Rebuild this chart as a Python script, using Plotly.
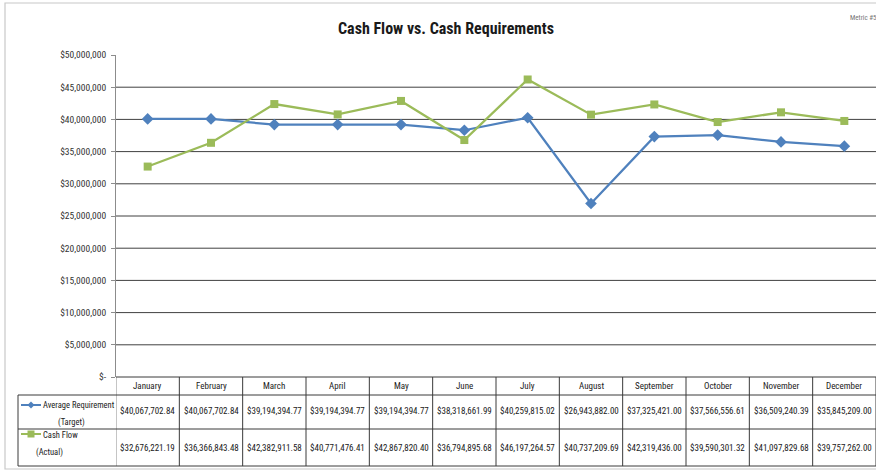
import plotly.graph_objects as go

months = ["January", "February", "March", "April", "May", "June", "July",
          "August", "September", "October", "November", "December"]
avg_requirement = [40067702.84, 40067702.84, 39194394.77, 39194394.77, 39194394.77,
                   38318661.99, 40259815.02, 26943882.00, 37325421.00, 37566556.61,
                   36509240.39, 35845209.00]
cash_flow = [32676221.19, 36366843.48, 42382911.58, 40771476.41, 42867820.40,
             36794895.68, 46197264.57, 40737209.69, 42319436.00, 39590301.32,
             41097829.68, 39757262.00]
y_ticks = [0, 5e6, 10e6, 15e6, 20e6, 25e6, 30e6, 35e6, 40e6, 45e6, 50e6]
y_tick_text = ["$-", "$5,000,000", "$10,000,000", "$15,000,000", "$20,000,000",
               "$25,000,000", "$30,000,000", "$35,000,000", "$40,000,000",
               "$45,000,000", "$50,000,000"]
series_line1 = ["Average Requirement", "Cash Flow"]
series_line2 = ["(Target)", "(Actual)"]

W, H = 876, 470
L, R, T, B = 116, 0, 55, 93
PW = W - L - R
PH = H - T - B
FONT = "Roboto Condensed, Carlito, DejaVu Sans Condensed, sans-serif"
BLUE = "#4F81BD"
GREEN = "#9BBB59"
GRID = "#404040"
BORDER = "#3a3a3a"


def px(x):
    return (x - L) / PW


def py(y):
    return (H - B - y) / PH


def money(v):
    return "${:,.2f}".format(v)


fig = go.Figure()
fig.add_trace(go.Scatter(x=months, y=avg_requirement, mode="lines+markers",
                         line=dict(color=BLUE, width=2.25),
                         marker=dict(symbol="diamond", size=9, color=BLUE),
                         name="Average Requirement (Target)"))
fig.add_trace(go.Scatter(x=months, y=cash_flow, mode="lines+markers",
                         line=dict(color=GREEN, width=2.25),
                         marker=dict(symbol="square", size=8, color=GREEN),
                         name="Cash Flow (Actual)"))

shapes = []
for v in y_ticks[1:-1]:
    shapes.append(dict(type="line", xref="paper", yref="y", x0=0, x1=1, y0=v, y1=v,
                       line=dict(color=GRID, width=1), layer="below"))

# outer frame
shapes.append(dict(type="rect", xref="paper", yref="paper", x0=px(5), x1=px(900),
                   y0=py(469), y1=py(3), line=dict(color="#c8c8c8", width=1.2)))

# table
row_tops = [377, 395, 429, 466]
n = len(months)
for i in range(n + 1):
    xv = i - 0.5
    shapes.append(dict(type="line", xref="x", yref="paper", x0=xv, x1=xv,
                       y0=py(row_tops[0]), y1=py(row_tops[-1]),
                       line=dict(color=BORDER if i > 0 else "#8c8c8c", width=1)))
shapes.append(dict(type="line", xref="paper", yref="paper", x0=0, x1=1,
                   y0=py(377), y1=py(377), line=dict(color=BORDER, width=1)))
for yy in row_tops[1:]:
    shapes.append(dict(type="line", xref="paper", yref="paper", x0=px(18), x1=1,
                       y0=py(yy), y1=py(yy), line=dict(color=BORDER, width=1)))
shapes.append(dict(type="line", xref="paper", yref="paper", x0=px(18), x1=px(18),
                   y0=py(395), y1=py(466), line=dict(color=BORDER, width=1)))

# legend keys in table
key_y = [405, 434]
key_col = [BLUE, GREEN]
for k in range(2):
    yk = py(key_y[k])
    shapes.append(dict(type="line", xref="paper", yref="paper", x0=px(21), x1=px(41),
                       y0=yk, y1=yk, line=dict(color=key_col[k], width=2)))
    cx = 31
    if k == 0:
        path = "M {} {} L {} {} L {} {} L {} {} Z".format(
            px(cx - 3.5), yk, px(cx), py(key_y[k] - 3.5), px(cx + 3.5), yk,
            px(cx), py(key_y[k] + 3.5))
        shapes.append(dict(type="path", xref="paper", yref="paper", path=path,
                           fillcolor=key_col[k], line=dict(color=key_col[k], width=0)))
    else:
        shapes.append(dict(type="rect", xref="paper", yref="paper",
                           x0=px(cx - 3.5), x1=px(cx + 3.5),
                           y0=py(key_y[k] + 3.5), y1=py(key_y[k] - 3.5),
                           fillcolor=key_col[k], line=dict(color=key_col[k], width=0)))

annotations = []
tf = dict(family=FONT, size=9, color="#1a1a1a")
for i, m in enumerate(months):
    annotations.append(dict(x=i, y=py(386), xref="x", yref="paper", text=m,
                            showarrow=False, font=tf, xanchor="center", yanchor="middle"))
    annotations.append(dict(x=i, y=py(411), xref="x", yref="paper",
                            text=money(avg_requirement[i]), showarrow=False, font=tf,
                            xanchor="center", yanchor="middle"))
    annotations.append(dict(x=i, y=py(448), xref="x", yref="paper",
                            text=money(cash_flow[i]), showarrow=False, font=tf,
                            xanchor="center", yanchor="middle"))

lf = dict(family=FONT, size=8.5, color="#1a1a1a")
line1_y = [405, 435]
line2_y = [422, 452]
line2_cx = [71, 49]
for k in range(2):
    annotations.append(dict(x=px(41), y=py(line1_y[k]), xref="paper", yref="paper",
                            text=series_line1[k], showarrow=False, font=lf,
                            xanchor="left", yanchor="middle"))
    annotations.append(dict(x=px(line2_cx[k]), y=py(line2_y[k]), xref="paper", yref="paper",
                            text=series_line2[k], showarrow=False, font=lf,
                            xanchor="center", yanchor="middle"))

annotations.append(dict(x=px(446), y=py(28), xref="paper", yref="paper",
                        text="<b>Cash Flow vs. Cash Requirements</b>", showarrow=False,
                        font=dict(family=FONT, size=16, color="#1a1a1a"),
                        xanchor="center", yanchor="middle"))
annotations.append(dict(x=px(848), y=py(18), xref="paper", yref="paper",
                        text="Metric #5", showarrow=False,
                        font=dict(family=FONT, size=7, color="#777777"),
                        xanchor="left", yanchor="middle"))

fig.update_layout(
    width=W, height=H,
    margin=dict(l=L, r=R, t=T, b=B),
    paper_bgcolor="white", plot_bgcolor="white",
    showlegend=False,
    shapes=shapes, annotations=annotations,
    xaxis=dict(type="category", range=[-0.5, n - 0.5], showticklabels=False,
               showgrid=False, zeroline=False, ticks="", showline=False, fixedrange=True),
    yaxis=dict(range=[0, 50e6], tickvals=y_ticks, ticktext=y_tick_text,
               showgrid=False, zeroline=False, showline=True, linecolor="#8c8c8c",
               linewidth=1, ticks="outside", ticklen=4, tickcolor="#8c8c8c",
               tickfont=dict(family=FONT, size=9.5, color="#333333"), ticklabelstandoff=3),
)

fig.write_html("out.html", config={"displayModeBar": False},
               post_script="document.body.style.margin='0px';")
